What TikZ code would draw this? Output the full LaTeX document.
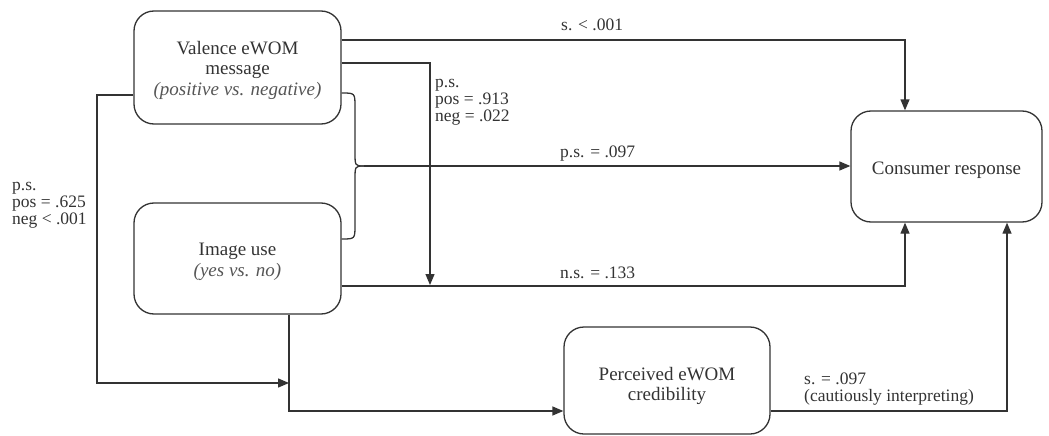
\documentclass[tikz,border=0pt]{standalone}
\usepackage{fontspec}
\setmainfont{Liberation Serif}
\usetikzlibrary{arrows.meta}
\definecolor{linec}{HTML}{333333}
\definecolor{txtc}{HTML}{333333}
\definecolor{itc}{HTML}{555555}
\newcommand{\boxtext}[2]{\raisebox{-#1}[\height][\depth]{\begin{tabular}{@{}c@{}}#2\end{tabular}}}
\begin{document}
\begin{tikzpicture}[x=1pt,y=-1pt,
  box/.style={draw=linec, line width=1.3pt, rounded corners=20pt, align=center, text=txtc,
    font=\fontsize{19}{20.5}\selectfont, inner sep=0pt},
  conn/.style={draw=linec, line width=1.3pt},
  arr/.style={conn, -{Triangle[length=11pt,width=9pt]}},
  lbl/.style={text=txtc, font=\fontsize{17.5}{17}\selectfont, align=left, anchor=west, inner sep=0pt}]
\useasboundingbox (0,0) rectangle (1049,436);

\node[box, minimum width=207pt, minimum height=113pt] (val) at (237.5,67.5)
  {\boxtext{3pt}{Valence eWOM\\message\\{\itshape\color{itc}(positive vs. negative)}}};
\node[box, minimum width=207pt, minimum height=111pt] (img) at (237.5,258.5)
  {\boxtext{3.5pt}{Image use\\{\itshape\color{itc}(yes vs. no)}}};
\node[box, minimum width=191pt, minimum height=111pt] (cons) at (946.5,166.5)
  {\boxtext{4pt}{Consumer response}};
\node[box, minimum width=206pt, minimum height=107pt] (perc) at (667,380.5)
  {\boxtext{6pt}{Perceived eWOM\\credibility}};

% valence -> consumer (top)
\draw[arr] (val.east |- 0,40) -| ([xshift=-41.5pt]cons.north);
% valence -> moderation arrow onto image-use path
\draw[arr] (val.east |- 0,63) -| (430,285);
% brace
\coordinate (tip) at (364,166);
\draw[conn] (val.east |- 0,93) .. controls (355,93) .. (355,107) -- (355,152) .. controls (355,166) .. (tip);
\draw[conn] (img.east |- 0,239) .. controls (355,239) .. (355,225) -- (355,180) .. controls (355,166) .. (tip);
\draw[arr] (tip) -- (cons.west |- tip);
% image use -> consumer (bottom)
\draw[arr] (img.east |- 0,286) -| ([xshift=-41.5pt]cons.south);
% valence left loop -> image-use to credibility path
\coordinate (mj) at (289,383);
\draw[arr] (val.west |- 0,95) -| (97,383) -- (mj);
% image use -> credibility
\draw[arr] ([xshift=51.5pt]img.south) |- (perc.west |- 0,411);
% credibility -> consumer
\draw[arr] (perc.east |- 0,411) -| ([xshift=60.5pt]cons.south);

% labels
\node[lbl] (l1) at (561,25) {s. < .001};
\node[lbl] (l2) at (435,102) {p.s.\\pos = .913\\neg = .022};
\node[lbl] (l3) at (560,154) {p.s. = .097};
\node[lbl] (l4) at (560,273) {n.s. = .133};
\node[lbl] (l5) at (12,205) {p.s.\\pos = .625\\neg < .001};
\node[lbl] (l6) at (804,389) {s. = .097\\(cautiously interpreting)};
\end{tikzpicture}
\end{document}
